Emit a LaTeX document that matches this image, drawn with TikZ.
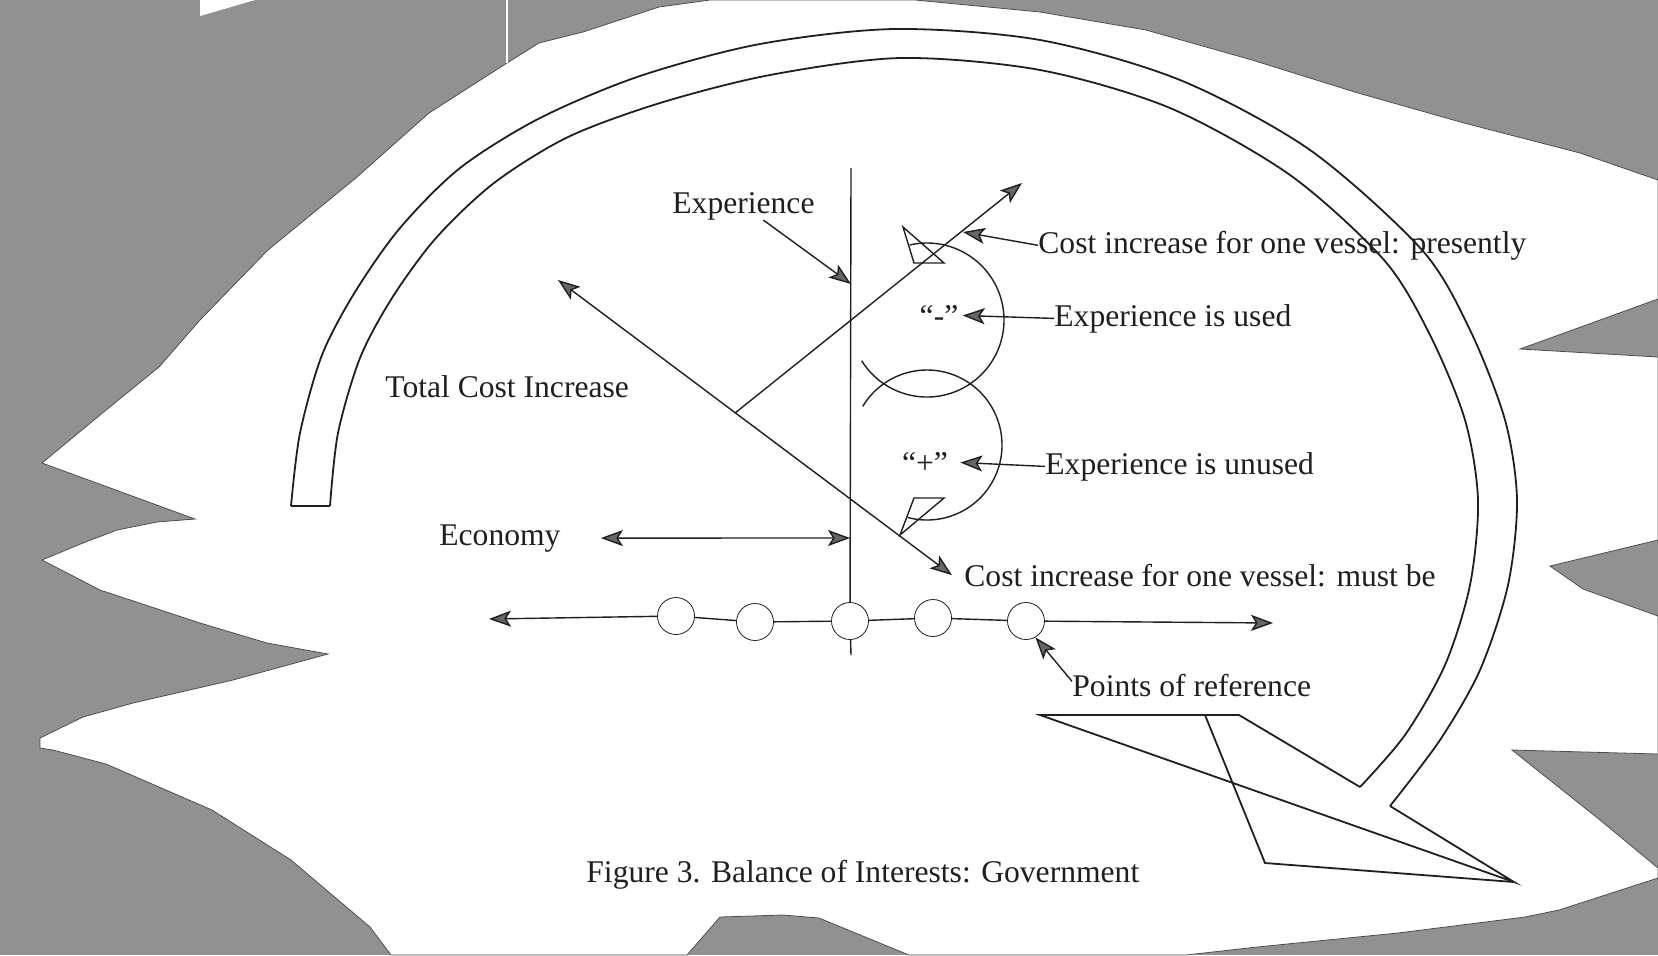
\documentclass[tikz,border=0pt]{standalone}
\usepackage{fontspec}
\setmainfont{Liberation Serif}
\usetikzlibrary{arrows.meta,calc}
\definecolor{scan}{gray}{0.57}
\definecolor{ink}{gray}{0.12}

\begin{document}
\begin{tikzpicture}[x=0.5pt,y=-0.5pt,
    >={Stealth[length=11pt,width=8pt,inset=2.5pt,fill=black!60]},
    lbl/.style={inner sep=0pt,font=\fontsize{15.8}{19}\selectfont,text=ink},
    dot/.style={draw=ink,circle,fill=white,minimum size=18.5pt,inner sep=0pt},
    line/.style={draw=ink,line width=0.7pt},
    band/.style={draw=ink,line width=0.9pt}]
    \useasboundingbox (0,0) rectangle (1658,955);
    %% Paper on the scanner bed
    \fill[scan] (0,0) rectangle (1658,955);
    \fill[white,draw=black!70,line width=0.4pt] (42,463) -- (100,415) -- (159,367) -- (200,320)
        -- (268,250) -- (357,177) -- (429,113) -- (507,63) -- (539,43) -- (583,32)
        -- (659,7) -- (710,0) -- (915,0) -- (1040,12) -- (1146,30) -- (1252,60)
        -- (1358,93) -- (1464,123) -- (1580,153) -- (1658,180) -- (1658,299)
        -- (1520,349) -- (1658,357) -- (1658,540) -- (1550,566) -- (1583,589)
        -- (1658,616) -- (1658,754) -- (1512,750) -- (1600,820) -- (1658,868)
        -- (1658,878) -- (1559,910) -- (1525,917) -- (1398,933) -- (1257,947)
        -- (1186,955) -- (909,955) -- (819,918) -- (783,915) -- (720,917)
        -- (687,955) -- (391,955) -- (370,927) -- (291,860) -- (212,810)
        -- (106,764) -- (53,750) -- (40,748) -- (40,738) -- (83,717) -- (133,703)
        -- (233,680) -- (328,654) -- (267,643) -- (200,623) -- (100,590)
        -- (42,560) -- (83,543) -- (117,530) -- (157,522) -- (195,519) -- cycle;
    \fill[white] (200,0) -- (255,0) -- (200,16) -- cycle;
    \draw[white,line width=0.6pt] (507,0) -- (507,63);

    %% Big circular arrow
    \draw[band] plot[smooth] coordinates {(291,506) (300,433) (322,355) (355,292)
        (400,228) (460,168) (540,118) (640,76) (760,44) (895,29) (1040,40)
        (1180,80) (1310,150) (1422,250) (1470,330) (1505,420) (1517,500)
        (1508,585) (1480,670) (1440,740) (1390,806)};
    \draw[band] plot[smooth] coordinates {(330,506) (338,433) (360,358) (392,298)
        (436,238) (494,183) (568,137) (660,103) (770,75) (901,58) (1040,70)
        (1170,108) (1290,175) (1384,260) (1430,335) (1465,420) (1478,500)
        (1470,585) (1445,665) (1405,735) (1360,787)};
    \draw[band] (291,506) -- (330,506);
    \draw[band] (1360,787) -- (1239,715) -- (1040,715) -- (1514,882) -- (1390,806);
    \draw[band] (1205,715) -- (1265,863) -- (1514,882);

    %% Labels
    \node[lbl,anchor=base west] (exp) at (672,213) {Experience};
    \node[lbl,anchor=base west] (tci) at (385,397) {Total Cost Increase};
    \node[lbl,anchor=base west] (eco) at (439,545) {Economy};
    \node[lbl,anchor=base west] (pres) at (1038,253) {Cost increase for one vessel: presently};
    \node[lbl,anchor=base west] (used) at (1054,326) {Experience is used};
    \node[lbl,anchor=base west] (unused) at (1045,474) {Experience is unused};
    \node[lbl,anchor=base] (minus) at (939,326) {“-”};
    \node[lbl,anchor=base] (plus) at (925,473) {“+”};
    \node[lbl,anchor=base west] (must) at (964,586) {Cost increase for one vessel: must be};
    \node[lbl,anchor=base west] (ref) at (1072,696) {Points of reference};
    \node[lbl,anchor=base west] (cap) at (586,882) {Figure 3. Balance of Interests: Government};

    %% Axes with points of reference
    \coordinate (axT) at (851,168);
    \coordinate (axB) at (851,655);
    \coordinate (axL) at (489,619);
    \coordinate (axR) at (1273,623);
    \node[dot] (c1) at (676,616) {};
    \node[dot] (c2) at (755,622) {};
    \node[dot] (c3) at (850,621) {};
    \node[dot] (c4) at (933,618) {};
    \node[dot] (c5) at (1026,621) {};
    \draw[line] (axT) -- (c3) -- (axB);
    \draw[line,->] (c1) -- (axL);
    \foreach \a/\b in {c1/c2,c2/c3,c3/c4,c4/c5} {
        \draw[line] (\a) -- (\b);
    }
    \draw[line,->] (c5) -- (axR);

    %% Cost lines
    \coordinate (tl) at (558,280);
    \coordinate (mb) at ([xshift=-6pt]must.west);
    \coordinate (br) at ($(tl)!0.45!(mb)$);
    \coordinate (pt) at (1022,183);
    \draw[line,<->] (tl) -- (mb);
    \draw[line,->] (br) -- (pt);

    %% Loops
    \draw[line] (927,320) ++(148:77) arc[start angle=148,end angle=-103,radius=77];
    \draw[line] (903,227) -- (914,263) -- (944,263) -- cycle;
    \draw[line] (927,445) ++(-149:75) arc[start angle=-149,end angle=105,radius=75];
    \draw[line] (914,498) -- (944,498) -- (900,535) -- cycle;

    %% Pointers
    \coordinate (expT) at (851,284);
    \coordinate (ecoR) at (850,538);
    \coordinate (presT) at (963,232);
    \draw[line,->] ([xshift=10pt]exp.south) -- (expT);
    \draw[line,<->] ([xshift=20pt]eco.east) -- (ecoR);
    \draw[line,->] (pres.west) -- (presT);
    \draw[line,->] (used.west) -- ([xshift=2pt]minus.east);
    \draw[line,->] (unused.west) -- ([xshift=6pt]plus.east);
    \draw[line,->] ([yshift=-4pt]ref.north west) -- (c5.-60);
\end{tikzpicture}
\end{document}
